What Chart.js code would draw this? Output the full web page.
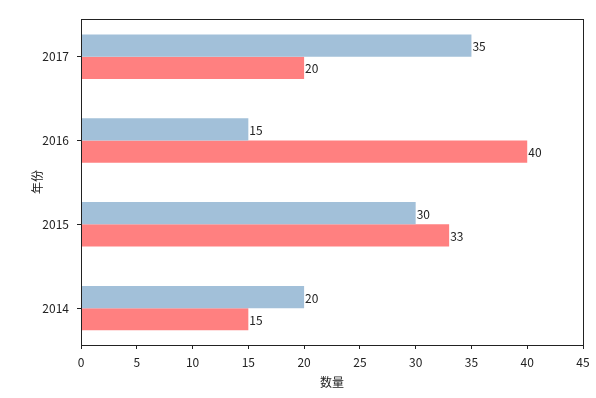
<!DOCTYPE html>
<html>
<head>
<meta charset="utf-8">
<script src="https://cdn.jsdelivr.net/npm/chart.js@4/dist/chart.umd.min.js"></script>
<style>
  body { margin: 0; background: #fff; }
</style>
</head>
<body>
<canvas id="c" width="596" height="398"></canvas>
<script>
// years, bottom to top
const years = ['2014', '2015', '2016', '2017'];
const blueVals = [20, 30, 15, 35];
const redVals = [15, 33, 40, 20];
const xTicks = [0, 5, 10, 15, 20, 25, 30, 35, 40, 45];

const FONT = '"Noto Sans CJK SC", "DejaVu Sans", sans-serif';
const INK = '#222';

// value labels at the end of each bar
const barLabels = {
  id: 'barLabels',
  afterDatasetsDraw(chart) {
    const ctx = chart.ctx;
    ctx.save();
    ctx.font = '12px ' + FONT;
    ctx.fillStyle = INK;
    ctx.textAlign = 'left';
    ctx.textBaseline = 'middle';
    chart.data.datasets.forEach((ds, di) => {
      chart.getDatasetMeta(di).data.forEach((bar, i) => {
        ctx.fillText(String(ds.data[i].x), bar.x + 1, bar.y + 1);
      });
    });
    ctx.restore();
  }
};

// box around the plot
const frame = {
  id: 'frame',
  afterDraw(chart) {
    const a = chart.chartArea;
    const ctx = chart.ctx;
    ctx.save();
    ctx.strokeStyle = INK;
    ctx.lineWidth = 1;
    ctx.strokeRect(Math.round(a.left) + 0.5, Math.round(a.top) + 0.5,
      Math.round(a.right - a.left), Math.round(a.bottom - a.top));
    ctx.restore();
  }
};

new Chart(document.getElementById('c'), {
  type: 'bar',
  data: {
    datasets: [
      {
        data: blueVals.map((v, i) => ({ x: v, y: i })),
        backgroundColor: '#a2c0d9',
        categoryPercentage: 0.53,
        barPercentage: 1
      },
      {
        data: redVals.map((v, i) => ({ x: v, y: i })),
        backgroundColor: '#ff8080',
        categoryPercentage: 0.53,
        barPercentage: 1
      }
    ]
  },
  options: {
    indexAxis: 'y',
    responsive: false,
    animation: false,
    layout: { padding: { top: 19, right: 13, left: 30, bottom: 8 } },
    plugins: { legend: { display: false }, tooltip: { enabled: false } },
    scales: {
      x: {
        type: 'linear',
        min: 0,
        max: 45,
        afterBuildTicks: s => { s.ticks = xTicks.map(v => ({ value: v })); },
        afterFit: s => { s.height = 45; },
        grid: { drawOnChartArea: false, tickLength: 4, color: INK },
        border: { display: false },
        ticks: { color: INK, font: { family: FONT, size: 12 }, padding: 6, maxRotation: 0 },
        title: { display: true, text: '数量', color: INK, font: { family: FONT, size: 12 }, padding: 0 }
      },
      y: {
        type: 'linear',
        offset: false,
        min: -0.44,
        max: 3.45,
        afterBuildTicks: s => { s.ticks = years.map((y, i) => ({ value: i })); },
        afterFit: s => { s.width = 51; },
        grid: { drawOnChartArea: false, offset: false, tickLength: 4, color: INK },
        border: { display: false },
        ticks: {
          color: INK,
          font: { family: FONT, size: 12 },
          padding: 8,
          callback: v => years[v]
        },
        title: { display: true, text: '年份', color: INK, font: { family: FONT, size: 12 }, padding: 0 }
      }
    }
  },
  plugins: [barLabels, frame]
});
</script>
</body>
</html>
